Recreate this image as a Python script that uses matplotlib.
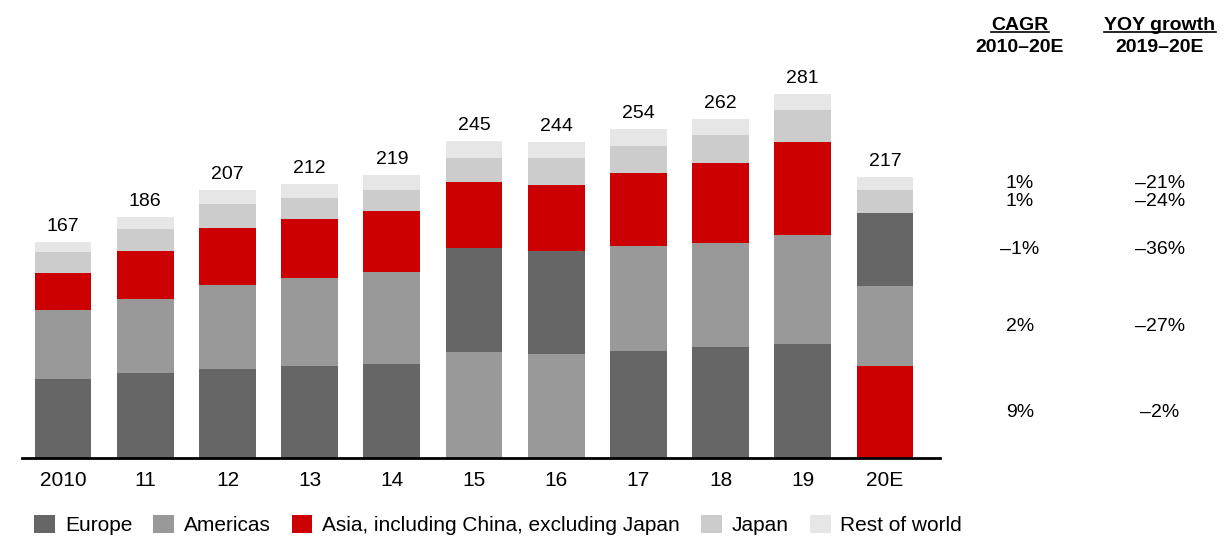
import matplotlib.pyplot as plt
from matplotlib.lines import Line2D
from matplotlib.patches import Patch
from matplotlib.transforms import blended_transform_factory

plt.rcParams["font.family"] = ["Liberation Sans", "DejaVu Sans"]

years = ["2010", "11", "12", "13", "14", "15", "16", "17", "18", "19", "20E"]
totals = [167, 186, 207, 212, 219, 245, 244, 254, 262, 281, 217]

europe = [61, 66, 69, 71, 73, 80, 80, 83, 86, 88, 56]
americas = [53, 57, 65, 68, 71, 82, 80, 81, 80, 84, 62]
asia = [29, 37, 44, 46, 47, 51, 51, 56, 62, 72, 71]
japan = [16, 17, 18, 16, 16, 19, 21, 21, 22, 25, 18]
rest = [8, 9, 11, 11, 12, 13, 12, 13, 12, 12, 10]

regions = ["Europe", "Americas", "Asia, including China, excluding Japan", "Japan", "Rest of world"]
colors = ["#666666", "#999999", "#cc0000", "#cccccc", "#e6e6e6"]
values = [europe, americas, asia, japan, rest]

# stacking order differs in a few bars of the original
default_order = [0, 1, 2, 3, 4]
stack_order = {5: [1, 0, 2, 3, 4], 6: [1, 0, 2, 3, 4], 10: [2, 1, 0, 3, 4]}

# side table, rows listed in the same order as the regions
cagr = ["–1%", "2%", "9%", "1%", "1%"]
yoy = ["–36%", "–27%", "–2%", "–24%", "–21%"]

W, H = 1226, 539
fig = plt.figure(figsize=(W / 100, H / 100), dpi=100)
ax = fig.add_axes([22 / W, (H - 458) / H, 918 / W, (458 - 60) / H])

mid_last = {}
for i in range(len(years)):
    bottom = 0
    for r in stack_order.get(i, default_order):
        v = values[r][i]
        ax.bar(i, v, bottom=bottom, width=0.69, color=colors[r], linewidth=0)
        if i == len(years) - 1:
            mid_last[r] = bottom + v / 2
        bottom += v
    ax.annotate(str(totals[i]), (i, bottom), xytext=(0, 5), textcoords="offset points",
                ha="center", va="bottom", fontsize=14)

ax.set_xlim(-0.5, 10.67)
ax.set_ylim(0, 398 / 1.294)
ax.set_xticks(range(len(years)))
ax.set_xticklabels(years, fontsize=15)
ax.set_yticks([])
ax.tick_params(axis="x", length=0, pad=9)
for s in ["top", "right", "left"]:
    ax.spines[s].set_visible(False)
ax.spines["bottom"].set_linewidth(2)
ax.spines["bottom"].set_color("black")

# table on the right
tr = blended_transform_factory(fig.transFigure, ax.transData)
x_cagr, x_yoy = 1020 / W, 1160 / W
for r in range(len(regions)):
    ax.text(x_cagr, mid_last[r], cagr[r], transform=tr, ha="center", va="center", fontsize=14)
    ax.text(x_yoy, mid_last[r], yoy[r], transform=tr, ha="center", va="center", fontsize=14)

heads = []
for x, top, bot in [(x_cagr, "CAGR", "2010–20E"), (x_yoy, "YOY growth", "2019–20E")]:
    t = fig.text(x, 1 - 25 / H, top, ha="center", va="center", fontsize=14, fontweight="bold")
    fig.text(x, 1 - 47 / H, bot, ha="center", va="center", fontsize=14, fontweight="bold")
    heads.append(t)

fig.canvas.draw()
inv = fig.transFigure.inverted()
for t in heads:
    bb = t.get_window_extent().transformed(inv)
    fig.add_artist(Line2D([bb.x0, bb.x1], [bb.y0 + 0.002, bb.y0 + 0.002], color="black", lw=1.2,
                          transform=fig.transFigure))

handles = [Patch(facecolor=c, edgecolor="none") for c in colors]
fig.legend(handles, regions, loc="center left", bbox_to_anchor=(34 / W, 1 - 525 / H), ncol=5,
           frameon=False, fontsize=15, handlelength=1.0, handleheight=1.0, handletextpad=0.48,
           columnspacing=1.0, borderaxespad=0, borderpad=0)

fig.savefig("out.png", dpi=100)
